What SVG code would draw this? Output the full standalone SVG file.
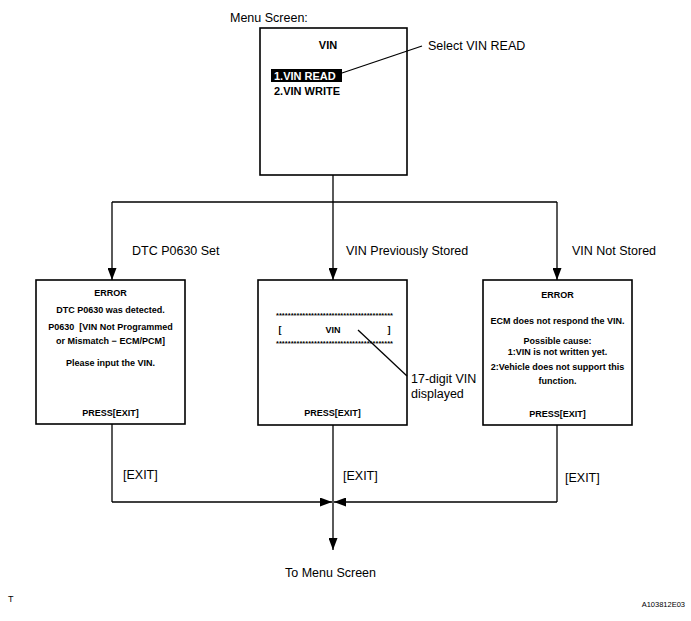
<svg xmlns="http://www.w3.org/2000/svg" width="691" height="621" viewBox="0 0 691 621">
<defs>
<style>
.box{fill:#fff;stroke:#000;stroke-width:1.6}
.ln{fill:none;stroke:#000;stroke-width:1.3}
.lbl{font-family:"Liberation Sans",Arial,sans-serif;font-size:12.5px;fill:#000}
.bt{font-family:"Liberation Sans",Arial,sans-serif;font-size:9px;font-weight:bold;fill:#000;text-anchor:middle}
.mt{font-family:"Liberation Sans",Arial,sans-serif;font-size:11px;font-weight:bold;fill:#000}
.ast{font-family:"Liberation Sans",Arial,sans-serif;font-size:8px;font-weight:bold;fill:#000}
</style>
<marker id="ah" viewBox="0 0 12 9" refX="12" refY="4.5" markerWidth="12" markerHeight="9" markerUnits="userSpaceOnUse" orient="auto">
<path d="M0,0 L12,4.5 L0,9 Z" fill="#000"/>
</marker>
</defs>
<rect width="691" height="621" fill="#fff"/>

<text class="lbl" x="230" y="22">Menu Screen:</text>

<g id="menu">
<rect class="box" x="260" y="28" width="147" height="147"/>
<text class="mt" x="328" y="49" text-anchor="middle">VIN</text>
<rect x="271" y="69" width="71" height="13" fill="#000"/>
<text class="mt" x="274" y="80" fill="#fff" style="fill:#fff">1.VIN READ</text>
<text class="mt" x="274" y="95">2.VIN WRITE</text>
</g>
<g id="select-label">
<line class="ln" x1="342" y1="73" x2="422" y2="46"/>
<text class="lbl" x="428" y="50">Select VIN READ</text>
</g>

<g id="connectors">
<line class="ln" x1="333" y1="175" x2="333" y2="202"/>
<line class="ln" x1="112" y1="202" x2="557" y2="202"/>
<line class="ln" x1="112" y1="202" x2="112" y2="280" marker-end="url(#ah)"/>
<line class="ln" x1="333" y1="202" x2="333" y2="280" marker-end="url(#ah)"/>
<line class="ln" x1="557" y1="202" x2="557" y2="280" marker-end="url(#ah)"/>
<line class="ln" x1="112" y1="424" x2="112" y2="502"/>
<line class="ln" x1="557" y1="425" x2="557" y2="502"/>
<line class="ln" x1="112" y1="502" x2="332" y2="502" marker-end="url(#ah)"/>
<line class="ln" x1="557" y1="502" x2="334" y2="502" marker-end="url(#ah)"/>
<line class="ln" x1="333" y1="425" x2="333" y2="550" marker-end="url(#ah)"/>
<text class="lbl" x="132" y="255">DTC P0630 Set</text>
<text class="lbl" x="346" y="255">VIN Previously Stored</text>
<text class="lbl" x="572" y="255">VIN Not Stored</text>
<text class="lbl" x="123" y="479">[EXIT]</text>
<text class="lbl" x="343" y="480">[EXIT]</text>
<text class="lbl" x="565" y="482">[EXIT]</text>
<text class="lbl" x="285" y="577">To Menu Screen</text>
</g>

<g id="error-dtc">
<rect class="box" x="36" y="280" width="149" height="144"/>
<text class="bt" x="110.5" y="296">ERROR</text>
<text class="bt" x="110.5" y="313">DTC P0630 was detected.</text>
<text class="bt" x="110.5" y="330" xml:space="preserve">P0630  [VIN Not Programmed</text>
<text class="bt" x="110.5" y="344">or Mismatch − ECM/PCM]</text>
<text class="bt" x="110.5" y="366">Please input the VIN.</text>
<text class="bt" x="110.5" y="416">PRESS[EXIT]</text>
</g>

<g id="vin-stored">
<rect class="box" x="258" y="280" width="149" height="145"/>
<text class="ast" x="276" y="318" textLength="117" lengthAdjust="spacingAndGlyphs">****************************************</text>
<text class="bt" x="280" y="333">[</text>
<text class="bt" x="333" y="333">VIN</text>
<text class="bt" x="389" y="333">]</text>
<text class="ast" x="276" y="346" textLength="117" lengthAdjust="spacingAndGlyphs">****************************************</text>
<text class="bt" x="332.5" y="416">PRESS[EXIT]</text>
<line class="ln" x1="358" y1="330" x2="407" y2="376"/>
<text class="lbl" x="411" y="383">17-digit VIN</text>
<text class="lbl" x="411" y="398">displayed</text>
</g>

<g id="error-not-stored">
<rect class="box" x="483" y="280" width="149" height="145"/>
<text class="bt" x="557.5" y="298">ERROR</text>
<text class="bt" x="557.5" y="324">ECM does not respond the VIN.</text>
<text class="bt" x="557.5" y="344">Possible cause:</text>
<text class="bt" x="557.5" y="355">1:VIN is not written yet.</text>
<text class="bt" x="557.5" y="370">2:Vehicle does not support this</text>
<text class="bt" x="557.5" y="384">function.</text>
<text class="bt" x="557.5" y="417">PRESS[EXIT]</text>
</g>

<text x="8" y="602" style="font-family:'Liberation Sans',Arial,sans-serif;font-size:9px">T</text>
<text x="685" y="607" text-anchor="end" style="font-family:'Liberation Sans',Arial,sans-serif;font-size:7.5px">A103812E03</text>
</svg>
